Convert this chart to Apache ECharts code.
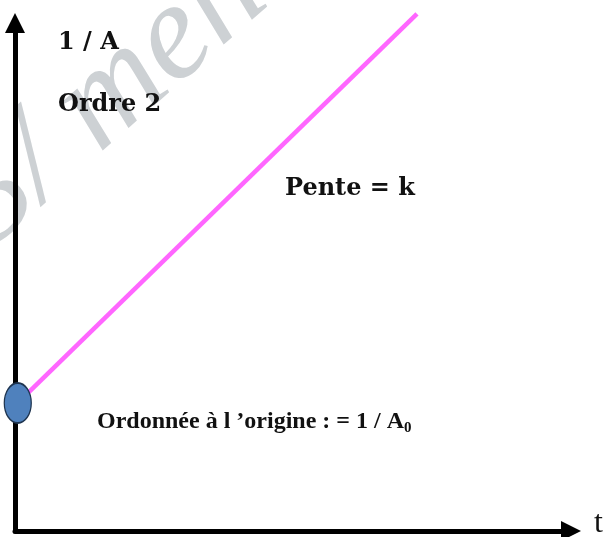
<!DOCTYPE html>
<html>
<head>
<meta charset="utf-8">
<script src="https://cdn.jsdelivr.net/npm/echarts@6/dist/echarts.min.js"></script>
<style>
  html, body { margin: 0; padding: 0; background: #fff; }
  #chart { width: 607px; height: 537px; }
</style>
</head>
<body>
<div id="chart"></div>
<script>
// Second-order kinetics: 1/A grows linearly with time t
const tValues = [0.5, 72.3];      // time (arbitrary units)
const invA = [25.2, 101.8];       // 1 / A at those times
const intercept = [[0.5, 25.2]];  // 1 / A0 on the vertical axis

const axisName = { x: 't', y: '1 / A' };
const labels = {
  order: 'Ordre 2',
  slope: 'Pente = k',
  origin: 'Ordonnée à l \u2019origine : = 1 / A',
  originSub: '0',
  watermark: '3/ men'
};

const chart = echarts.init(document.getElementById('chart'), null, { renderer: 'canvas' });

const axisLine = {
  show: true,
  symbol: ['none', 'triangle'],
  symbolSize: [20, 20],
  lineStyle: { color: '#000', width: 5 }
};

chart.setOption({
  backgroundColor: '#fff',
  animation: false,
  grid: { left: 15, right: 36, top: 23, bottom: 6, containLabel: false },
  xAxis: {
    type: 'value', min: 0, max: 100,
    axisLine: axisLine,
    axisTick: { show: false }, axisLabel: { show: false }, splitLine: { show: false }
  },
  yAxis: {
    type: 'value', min: 0, max: 100,
    axisLine: axisLine,
    axisTick: { show: false }, axisLabel: { show: false }, splitLine: { show: false }
  },
  graphic: [
    {
      type: 'text', x: 14, y: 272, rotation: 0.72, z: 0, silent: true,
      style: {
        text: labels.watermark, fill: '#cdd1d4',
        font: 'italic 138px "Liberation Serif"',
        align: 'left', verticalAlign: 'bottom'
      }
    },
    {
      type: 'text', left: 58, top: 31, z: 10,
      style: { text: axisName.y, fill: '#111', font: 'bold 24px "DejaVu Serif"' }
    },
    {
      type: 'text', left: 58, top: 93, z: 10,
      style: { text: labels.order, fill: '#111', font: 'bold 24px "DejaVu Serif"' }
    },
    {
      type: 'text', left: 285, top: 177, z: 10,
      style: { text: labels.slope, fill: '#111', font: 'bold 24px "DejaVu Serif"' }
    },
    {
      type: 'text', left: 97, top: 410, z: 10,
      style: {
        text: '{m|' + labels.origin + '}{s|' + labels.originSub + '}',
        rich: {
          m: { fill: '#111', font: 'bold 24px "Liberation Serif"' },
          s: { fill: '#111', font: 'bold 15px "Liberation Serif"', padding: [12, 0, 0, 0] }
        }
      }
    },
    {
      type: 'text', left: 594, top: 508, z: 10,
      style: { text: axisName.x, fill: '#111', font: '32px "Liberation Serif"' }
    }
  ],
  series: [
    {
      type: 'line',
      data: tValues.map((t, i) => [t, invA[i]]),
      clip: false,
      symbol: 'none',
      lineStyle: { color: '#ff66ff', width: 4.5 },
      z: 3
    },
    {
      type: 'scatter',
      data: intercept,
      symbol: 'circle',
      symbolSize: [27, 40],
      itemStyle: { color: '#4f81bd', opacity: 1, borderColor: '#1f3550', borderWidth: 1.5 },
      z: 4
    }
  ]
});
</script>
</body>
</html>
